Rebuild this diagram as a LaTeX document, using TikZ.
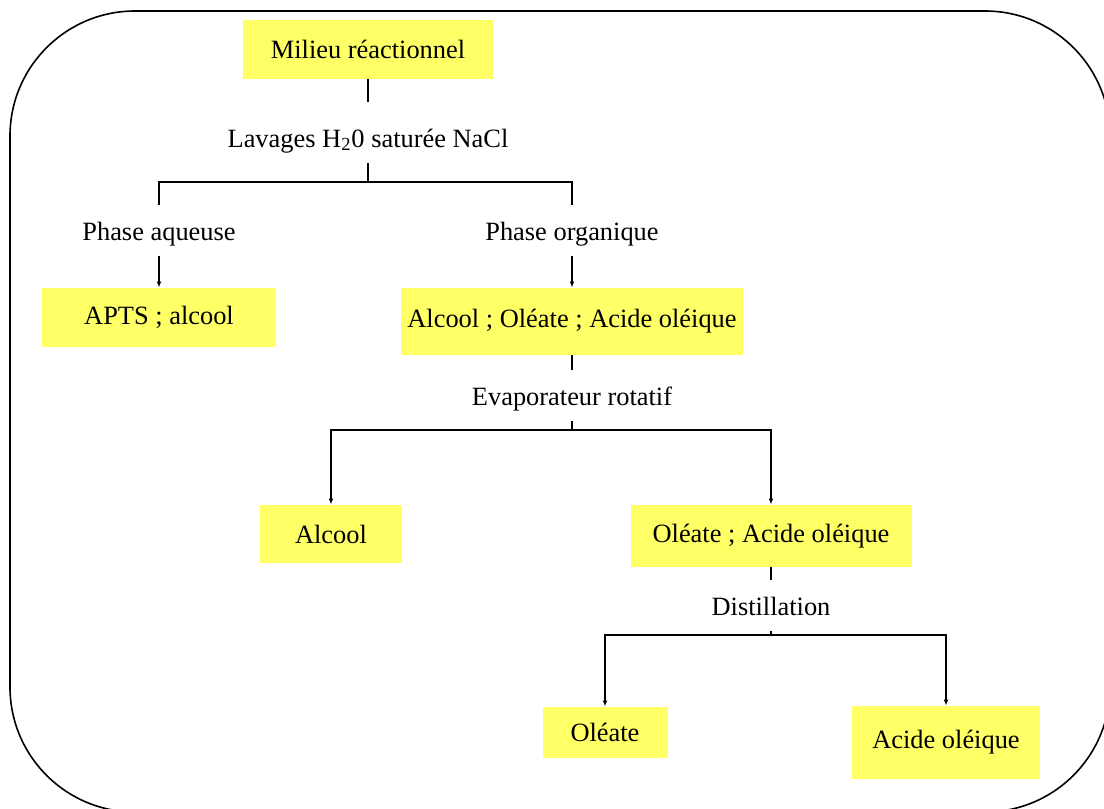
\documentclass[tikz,border=0pt]{standalone}
\usepackage{fontspec}
\setmainfont{Liberation Serif}
\usetikzlibrary{arrows.meta}

\definecolor{jaune}{HTML}{FFFF66}

\begin{document}
\begin{tikzpicture}[
		x=0.5pt, y=-0.5pt, % grid in half points, y pointing down
		font=\fontsize{13.2}{15}\selectfont,
		>={Latex[length=3pt,width=2.4pt]},
		bac/.style={fill=jaune, inner sep=0pt},
		etape/.style={anchor=base, inner sep=0pt, text height=17.5pt, text depth=8pt},
		trait/.style={line width=0.6pt}
		]
		
		% --- 0. Page and frame ---
		\useasboundingbox (0,0) rectangle (1104,809);
		\draw[line width=0.8pt, rounded corners=62.5pt] (10,11) rectangle (1110,812);
		
		% --- 1. Branch points ---
		\coordinate (s1) at (368,182);
		\coordinate (s2) at (572,430);
		\coordinate (s3) at (771,635);
		
		% --- 2. Products (yellow boxes) ---
		\node[bac, minimum width=125pt, minimum height=29.5pt] (milieu) at (368,49.5) {Milieu réactionnel};
		\node[bac, minimum width=117pt, minimum height=29.5pt] (apts) at (159,317.5) {APTS ; alcool};
		\node[bac, minimum width=171pt, minimum height=33.5pt] (melange) at (572,321.5) {Alcool ; Oléate ; Acide oléique};
		\node[bac, minimum width=71pt, minimum height=29pt] (alcool) at (331,534) {Alcool};
		\node[bac, minimum width=140.5pt, minimum height=31pt] (oleacide) at (771,536) {Oléate ; Acide oléique};
		\node[bac, minimum width=62.5pt, minimum height=25.5pt] (oleate) at (605,732.5) {Oléate};
		\node[bac, minimum width=94pt, minimum height=36.5pt] (acide) at (946,742.5) {Acide oléique};
		
		% --- 3. Operations (plain text, baseline placed) ---
		\node[etape, text height=22.5pt] (lavages) at (368,147) {Lavages H\textsubscript{2}0 saturée NaCl};
		\node[etape] (aqueuse) at (159,240) {Phase aqueuse};
		\node[etape] (organique) at (572,240) {Phase organique};
		\node[etape] (evap) at (572,405) {Evaporateur rotatif};
		\node[etape] (distil) at (771,615) {Distillation};
		
		% --- 4. Washing step ---
		\draw[trait] (milieu) -- (lavages);
		\draw[trait] (lavages) -- (s1);
		\draw[trait] (aqueuse.north) |- (s1) -| (organique.north);
		\draw[trait, ->] (aqueuse) -- (apts);
		\draw[trait, ->] (organique) -- (melange);
		
		% --- 5. Rotary evaporation ---
		\draw[trait] (melange) -- (evap);
		\draw[trait] (evap) -- (s2);
		\draw[trait, ->] (s2) -| (alcool);
		\draw[trait, ->] (s2) -| (oleacide);
		
		% --- 6. Distillation ---
		\draw[trait] (oleacide) -- (distil);
		\draw[trait] (distil) -- (s3);
		\draw[trait, ->] (s3) -| (oleate);
		\draw[trait, ->] (s3) -| (acide);
		
	\end{tikzpicture}
\end{document}
